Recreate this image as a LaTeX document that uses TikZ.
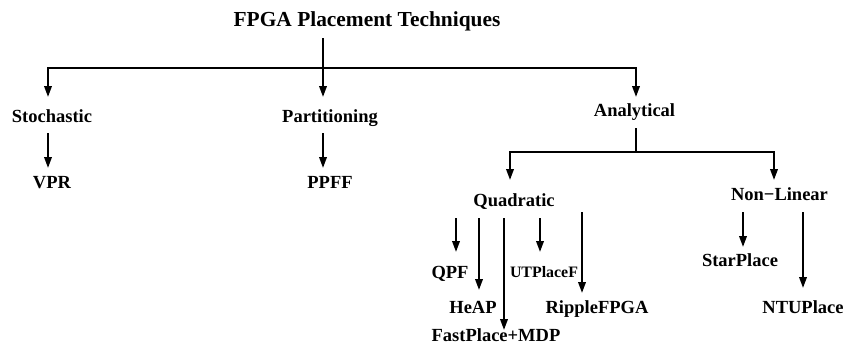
\documentclass[tikz,border=0pt]{standalone}
\usepackage{fontspec}
\setmainfont{Liberation Serif}
\usetikzlibrary{arrows.meta}
\begin{document}
\begin{tikzpicture}[x=1pt,y=-1pt,
  ttl/.style={font=\bfseries\fontsize{21.4}{24}\selectfont, anchor=base, inner sep=0pt},
  lbl/.style={font=\bfseries\fontsize{18.5}{20}\selectfont, anchor=base, inner sep=0pt},
  smalllbl/.style={font=\bfseries\fontsize{15.9}{18}\selectfont, anchor=base, inner sep=0pt},
  wire/.style={line width=2pt},
  arr/.style={line width=2pt, -{Triangle[width=7.5pt,length=11pt]}}]
\useasboundingbox (0,0) rectangle (845,354);

% labels
\node[ttl] (root) at (367,26) {FPGA Placement Techniques};
\node[lbl] (sto) at (52,122) {Stochastic};
\node[lbl] (par) at (330,122) {Partitioning};
\node[lbl] (ana) at (634.5,116) {Analytical};
\node[lbl] (vpr) at (52,188) {VPR};
\node[lbl] (ppff) at (330,188) {PPFF};
\node[lbl] (quad) at (514,206) {Quadratic};
\node[lbl] (nonlin) at (779.5,200) {Non−Linear};
\node[lbl] (qpf) at (450,278) {QPF};
\node[smalllbl] (utp) at (544,277) {UTPlaceF};
\node[lbl] (heap) at (473,313) {HeAP};
\node[lbl] (ripple) at (597,313) {RippleFPGA};
\node[lbl] (fpmdp) at (496,341) {FastPlace+MDP};
\node[lbl] (star) at (740,266) {StarPlace};
\node[lbl] (ntu) at (803,313) {NTUPlace};

% junction points of the tree
\coordinate (rootOut) at (323,38);
\coordinate (bus1) at (323,68);
\coordinate (stoIn) at (48,97);
\coordinate (parIn) at (323,97);
\coordinate (anaIn) at (636,97);

\coordinate (stoOut) at (48,133);
\coordinate (vprIn) at (48,168);
\coordinate (parOut) at (323,133);
\coordinate (ppffIn) at (323,168);

\coordinate (anaOut) at (636,128);
\coordinate (bus2) at (636,152);
\coordinate (quadIn) at (510,180);
\coordinate (nlIn) at (774,180);

\coordinate (qA) at (456,218); \coordinate (qpfIn) at (456,252);
\coordinate (qB) at (479,218); \coordinate (heapIn) at (479,290);
\coordinate (qC) at (504,218); \coordinate (fpIn) at (504,330);
\coordinate (qD) at (540,218); \coordinate (utpIn) at (540,252);
\coordinate (qE) at (582,212); \coordinate (ripIn) at (582,293);

\coordinate (nA) at (743,212); \coordinate (starIn) at (743,247);
\coordinate (nB) at (803,212); \coordinate (ntuIn) at (803,288);

% top level
\draw[wire] (rootOut) -- (bus1);
\draw[arr] (bus1) -| (stoIn);
\draw[arr] (bus1) -- (parIn);
\draw[arr] (bus1) -| (anaIn);

\draw[arr] (stoOut) -- (vprIn);
\draw[arr] (parOut) -- (ppffIn);

% analytical branch
\draw[wire] (anaOut) -- (bus2);
\draw[arr] (bus2) -| (quadIn);
\draw[arr] (bus2) -| (nlIn);

\draw[arr] (qA) -- (qpfIn);
\draw[arr] (qB) -- (heapIn);
\draw[arr] (qC) -- (fpIn);
\draw[arr] (qD) -- (utpIn);
\draw[arr] (qE) -- (ripIn);

\draw[arr] (nA) -- (starIn);
\draw[arr] (nB) -- (ntuIn);
\end{tikzpicture}
\end{document}
